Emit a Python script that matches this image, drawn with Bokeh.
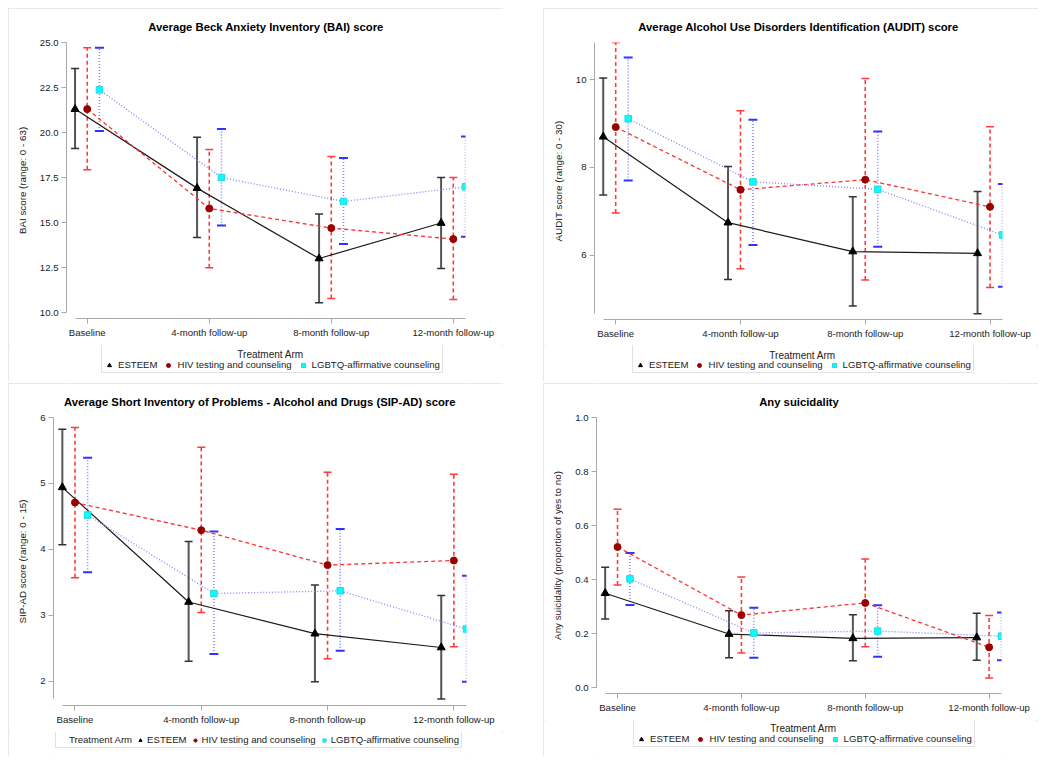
from bokeh.plotting import figure
from bokeh.models import (Range1d, FixedTicker, Whisker, TeeHead, ColumnDataSource,
                          Legend, LegendItem, NumeralTickFormatter, Spacer, Label)
from bokeh.layouts import row, column
from bokeh.embed import file_html
from bokeh.resources import INLINE

FONT = "Liberation Sans"
ZWSP = "\u200b"

timepoints = ["Baseline", "4-month follow-up", "8-month follow-up", "12-month follow-up"]
arm_names = ["ESTEEM", "HIV testing and counseling", "LGBTQ-affirmative counseling"]
legend_heading = "Treatment Arm"

# --- BAI ---
bai_esteem_mean = [21.30, 16.91, 13.00, 14.97]
bai_esteem_lo = [19.11, 14.17, 10.54, 12.44]
bai_esteem_hi = [23.56, 19.74, 15.47, 17.50]
bai_hiv_mean = [21.30, 15.78, 14.69, 14.08]
bai_hiv_lo = [17.93, 12.48, 10.78, 10.72]
bai_hiv_hi = [24.71, 19.06, 18.67, 17.50]
bai_lgb_mean = [22.37, 17.50, 16.17, 16.98]
bai_lgb_lo = [20.09, 14.83, 13.80, 14.21]
bai_lgb_hi = [24.71, 20.19, 18.58, 19.78]

# --- AUDIT ---
audit_esteem_mean = [8.70, 6.74, 6.08, 6.04]
audit_esteem_lo = [7.37, 5.44, 4.84, 4.66]
audit_esteem_hi = [10.04, 8.02, 7.33, 7.45]
audit_hiv_mean = [8.92, 7.49, 7.72, 7.10]
audit_hiv_lo = [6.96, 5.69, 5.43, 5.26]
audit_hiv_hi = [10.85, 9.29, 10.03, 8.93]
audit_lgb_mean = [9.11, 7.67, 7.50, 6.46]
audit_lgb_lo = [7.70, 6.23, 6.19, 5.28]
audit_lgb_hi = [10.51, 9.09, 8.82, 7.62]

# --- SIP-AD ---
sip_esteem_mean = [4.94, 3.20, 2.72, 2.51]
sip_esteem_lo = [4.07, 2.30, 1.99, 1.73]
sip_esteem_hi = [5.82, 4.12, 3.46, 3.30]
sip_hiv_mean = [4.71, 4.29, 3.76, 3.83]
sip_hiv_lo = [3.57, 3.04, 2.34, 2.52]
sip_hiv_hi = [5.85, 5.55, 5.17, 5.14]
sip_lgb_mean = [4.52, 3.33, 3.37, 2.79]
sip_lgb_lo = [3.65, 2.41, 2.46, 1.99]
sip_lgb_hi = [5.39, 4.27, 4.31, 3.60]

# --- Any suicidality ---
sui_esteem_mean = [0.350, 0.199, 0.183, 0.186]
sui_esteem_lo = [0.255, 0.111, 0.100, 0.102]
sui_esteem_hi = [0.446, 0.285, 0.270, 0.276]
sui_hiv_mean = [0.521, 0.269, 0.314, 0.150]
sui_hiv_lo = [0.380, 0.129, 0.152, 0.036]
sui_hiv_hi = [0.661, 0.410, 0.477, 0.268]
sui_lgb_mean = [0.403, 0.203, 0.210, 0.191]
sui_lgb_lo = [0.306, 0.111, 0.115, 0.102]
sui_lgb_hi = [0.499, 0.296, 0.305, 0.279]

bai_yticks = [10, 12.5, 15, 17.5, 20, 22.5, 25]
audit_yticks = [6, 8, 10]
sip_yticks = [2, 3, 4, 5, 6]
sui_yticks = [0.0, 0.2, 0.4, 0.6, 0.8, 1.0]

STYLES = [
    dict(offset=-0.1, marker="triangle", size=8, fill="#000000", mline="#000000",
         line="#1a1a1a", dash="solid", lw=1.2,
         bar="#555555", bar_dash="solid", bar_w=2.0, cap="#333333", cap_w=1.5, cap_size=8),
    dict(offset=0.0, marker="circle", size=7, fill="#990000", mline="#990000",
         line="#ff3333", dash="4 3", lw=1.3,
         bar="#ff3b3b", bar_dash="4 3", bar_w=1.6, cap="#ff3b3b", cap_w=1.5, cap_size=8),
    dict(offset=0.1, marker="square", size=6.5, fill="#00ffff", mline="#2ad4e0",
         line="#8080ff", dash="1 2", lw=1.3,
         bar="#8585ff", bar_dash="1 2", bar_w=1.6, cap="#3333ff", cap_w=2.0, cap_size=9),
]

AXIS_COLOR = "#a9a9a9"
TEXT_COLOR = "#222222"
OUTLINE = {"outline": "2px solid #e0e0e0", "outline-offset": "-2px"}


def make_main(title, ylabel, series, yr, ybounds, yticks, yfmt, borders, height):
    l, r, t, b = borders
    p = figure(width=495, height=height, output_backend="svg", toolbar_location=None,
               x_range=Range1d(-0.17, 3.1), y_range=Range1d(*yr),
               min_border_left=l, min_border_right=r, min_border_top=t, min_border_bottom=b)
    p.outline_line_color = None
    p.grid.visible = False
    p.background_fill_color = "white"
    p.border_fill_color = "white"

    p.title.text = title
    p.title.align = "center"
    p.title.text_font = FONT
    p.title.text_font_size = "11.3px"
    p.title.text_font_style = "bold"
    p.title.text_color = "#000000"
    p.title.standoff = 20

    xa = p.xaxis[0]
    xa.ticker = FixedTicker(ticks=[0, 1, 2, 3])
    xa.major_label_overrides = {i: tp for i, tp in enumerate(timepoints)}
    xa.bounds = (-0.1, 3.1)
    ya = p.yaxis[0]
    ya.ticker = FixedTicker(ticks=yticks)
    ya.formatter = NumeralTickFormatter(format=yfmt)
    ya.bounds = ybounds
    ya.axis_label = ylabel
    for ax in (xa, ya):
        ax.axis_line_color = AXIS_COLOR
        ax.major_tick_line_color = AXIS_COLOR
        ax.minor_tick_line_color = None
        ax.major_tick_in = 0
        ax.major_tick_out = 5
        ax.major_label_text_font = FONT
        ax.major_label_text_font_size = "9.6px"
        ax.major_label_text_color = TEXT_COLOR
        ax.axis_label_text_font = FONT
        ax.axis_label_text_font_size = "9.8px"
        ax.axis_label_text_font_style = "normal"
        ax.axis_label_text_color = TEXT_COLOR
    ya.major_label_standoff = 3
    ya.axis_label_standoff = 9
    xa.major_label_standoff = 3

    idx = list(range(len(timepoints)))
    for (mean, lo, hi), st in zip(series, STYLES):
        xs = [i + st["offset"] for i in idx]
        src = ColumnDataSource(dict(x=xs, mean=mean, lo=lo, hi=hi))
        w = Whisker(source=src, base="x", upper="hi", lower="lo", dimension="height",
                    line_color=st["bar"], line_width=st["bar_w"], line_dash=st["bar_dash"],
                    upper_head=TeeHead(size=st["cap_size"], line_color=st["cap"], line_width=st["cap_w"]),
                    lower_head=TeeHead(size=st["cap_size"], line_color=st["cap"], line_width=st["cap_w"]))
        p.add_layout(w)
        p.line("x", "mean", source=src, line_color=st["line"], line_width=st["lw"],
               line_dash=st["dash"])
    for (mean, lo, hi), st in zip(series, STYLES):
        xs = [i + st["offset"] for i in idx]
        src = ColumnDataSource(dict(x=xs, mean=mean))
        p.scatter("x", "mean", source=src, marker=st["marker"], size=st["size"],
                  fill_color=st["fill"], line_color=st["mline"], line_width=1)
    return p


def legend_strip(series, height, loc, head_pos=None, inline=False):
    q = figure(width=495, height=height, output_backend="svg", toolbar_location=None,
               x_range=Range1d(0, 1), y_range=Range1d(0, 1),
               min_border_left=0, min_border_right=0, min_border_top=0, min_border_bottom=0,
               x_axis_location=None, y_axis_location=None)
    q.outline_line_color = None
    q.grid.visible = False
    q.border_fill_color = "white"
    q.background_fill_color = "white"
    keys = []
    for (mean, lo, hi), st in zip(series, STYLES):
        keys.append(q.scatter(x=list(range(len(mean))), y=mean, marker=st["marker"],
                              size=st["size"] + 0.5, fill_color=st["fill"],
                              line_color=st["mline"], line_width=1, visible=False))
    items = [LegendItem(label=n, renderers=[rr]) for n, rr in zip(arm_names, keys)]
    if inline:
        dummy = q.scatter(x=[], y=[], marker="square", size=1, fill_alpha=0, line_alpha=0,
                          visible=False)
        items = [LegendItem(label=legend_heading, renderers=[dummy])] + items
    legend = Legend(items=items, location=loc, orientation="horizontal",
                    border_line_color="#c4c4c4", border_line_width=1,
                    background_fill_alpha=0.0,
                    padding=2, margin=0, spacing=6, label_standoff=4,
                    glyph_width=10, glyph_height=10, label_height=10, label_width=10,
                    label_text_font=FONT, label_text_font_size="9.6px",
                    label_text_color=TEXT_COLOR,
                    title_text_font=FONT, title_text_font_size="10px",
                    title_text_font_style="normal", title_text_color=TEXT_COLOR,
                    title_standoff=1)
    if inline:
        legend.glyph_width = 8
        legend.label_standoff = 3
        legend.spacing = 4
    else:
        # reserve the heading row; the heading itself is centred by the Label below
        legend.title = ZWSP
    q.add_layout(legend)
    if not inline:
        q.add_layout(Label(x=head_pos[0], y=head_pos[1], x_units="screen", y_units="screen",
                           text=legend_heading, text_align="center", text_baseline="middle",
                           text_font=FONT, text_font_size="10px", text_color=TEXT_COLOR))
    return q


s1 = [(bai_esteem_mean, bai_esteem_lo, bai_esteem_hi),
      (bai_hiv_mean, bai_hiv_lo, bai_hiv_hi),
      (bai_lgb_mean, bai_lgb_lo, bai_lgb_hi)]
p1 = make_main("Average Beck Anxiety Inventory (BAI) score", "BAI score (range: 0 - 63)",
               s1, (9.667, 25.0), (10, 25), bai_yticks, "0.0", (58, 38, 34, 27), 337)
q1 = legend_strip(s1, 36, (35, 8), (204, 27))
panel1 = column(p1, q1, spacing=0)

s2 = [(audit_esteem_mean, audit_esteem_lo, audit_esteem_hi),
      (audit_hiv_mean, audit_hiv_lo, audit_hiv_hi),
      (audit_lgb_mean, audit_lgb_lo, audit_lgb_hi)]
p2 = make_main("Average Alcohol Use Disorders Identification (AUDIT) score",
               "AUDIT score (range: 0 - 30)",
               s2, (4.53, 10.85), (4.66, 10.85), audit_yticks, "0", (51, 36, 34, 26), 337)
q2 = legend_strip(s2, 36, (38, 8), (208, 26))
panel2 = column(p2, q2, spacing=0)

s3 = [(sip_esteem_mean, sip_esteem_lo, sip_esteem_hi),
      (sip_hiv_mean, sip_hiv_lo, sip_hiv_hi),
      (sip_lgb_mean, sip_lgb_lo, sip_lgb_hi)]
p3 = make_main("Average Short Inventory of Problems - Alcohol and Drugs (SIP-AD) score",
               "SIP-AD score (range: 0 - 15)",
               s3, (1.63, 6.0), (1.73, 6.0), sip_yticks, "0", (45, 37, 33, 27), 349)
q3 = legend_strip(s3, 24, (2, 8), inline=True)
panel3 = column(p3, q3, spacing=0)

s4 = [(sui_esteem_mean, sui_esteem_lo, sui_esteem_hi),
      (sui_hiv_mean, sui_hiv_lo, sui_hiv_hi),
      (sui_lgb_mean, sui_lgb_lo, sui_lgb_hi)]
p4 = make_main("Any suicidality", "Any suicidality (proportion of yes to no)",
               s4, (-0.021, 1.0), (0.0, 1.0), sui_yticks, "0.0", (53, 37, 33, 27), 337)
q4 = legend_strip(s4, 36, (37, 9), (207, 28))
panel4 = column(p4, q4, spacing=0)

for pn in (panel1, panel2, panel3, panel4):
    pn.styles = OUTLINE

grid = column(row(panel1, panel2, spacing=40), row(panel3, panel4, spacing=40), spacing=2)
layout = column(Spacer(width=10, height=8), row(Spacer(width=8, height=10), grid))

open("out.html", "w").write(file_html(layout, INLINE))
